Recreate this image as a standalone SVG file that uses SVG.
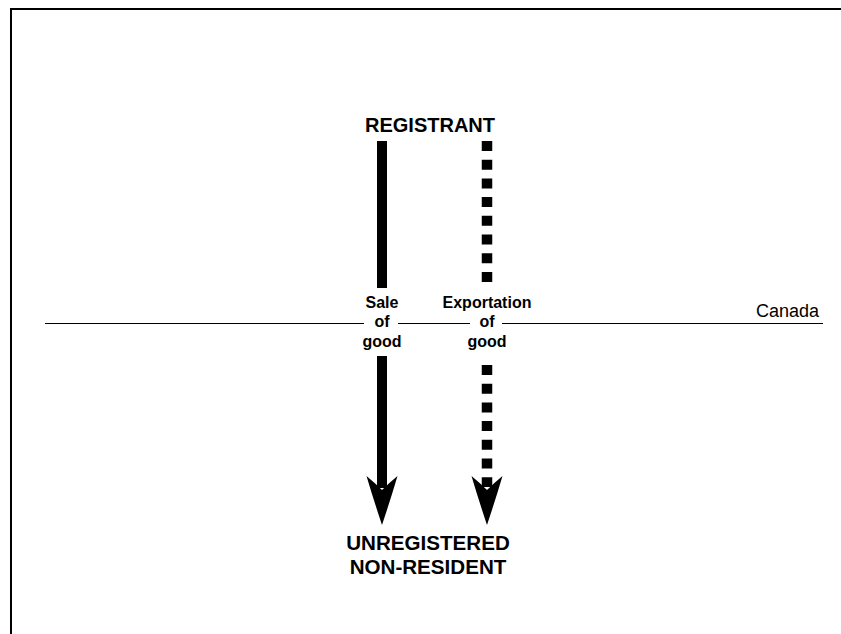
<svg xmlns="http://www.w3.org/2000/svg" width="841" height="634" viewBox="0 0 841 634">
<style>
.b{font-family:"Liberation Sans",Arial,sans-serif;font-weight:bold;fill:#000;text-anchor:middle}
.r{font-family:"Liberation Sans",Arial,sans-serif;fill:#000}
.shaft{stroke:#000;stroke-width:10;fill:none}
.dash{stroke:#000;stroke-width:10.5;fill:none;stroke-dasharray:10 8.7}
</style>
<rect width="841" height="634" fill="#fff"/>
<g id="frame">
<path d="M11,634 V9 H841" fill="none" stroke="#000" stroke-width="2"/>
</g>
<g id="border-canada">
<line x1="45" y1="323.5" x2="823" y2="323.5" stroke="#000" stroke-width="1"/>
<text class="r" x="819" y="317" font-size="18" text-anchor="end">Canada</text>
</g>
<g id="registrant">
<text class="b" x="430" y="131.5" font-size="20">REGISTRANT</text>
</g>
<g id="non-resident">
<text class="b" x="428" y="550" font-size="20.6">UNREGISTERED</text>
<text class="b" x="428" y="574" font-size="20.6">NON-RESIDENT</text>
</g>
<g id="connectors">
<g id="sale">
<line class="shaft" x1="382" y1="141" x2="382" y2="288"/>
<line class="shaft" x1="382" y1="356" x2="382" y2="488"/>
<path d="M382,525 Q373,498 366.5,476 Q375,483 382,490 Q389,483 397.5,476 Q391,498 382,525 Z" fill="#000"/>
<rect x="364" y="314" width="34" height="16" fill="#fff"/>
<text class="b" x="382" y="308.3" font-size="16">Sale</text>
<text class="b" x="382" y="327.3" font-size="16">of</text>
<text class="b" x="382" y="346.7" font-size="16">good</text>
</g>
<g id="export">
<line class="dash" x1="487" y1="141" x2="487" y2="282"/>
<line class="dash" x1="487" y1="365" x2="487" y2="487"/>
<path d="M487,525 Q478,498 471.5,476 Q480,483 487,490 Q494,483 502.5,476 Q496,498 487,525 Z" fill="#000"/>
<rect x="470" y="314" width="32" height="16" fill="#fff"/>
<text class="b" x="487" y="308.3" font-size="16">Exportation</text>
<text class="b" x="487" y="327.3" font-size="16">of</text>
<text class="b" x="487" y="346.7" font-size="16">good</text>
</g>
</g>
</svg>
